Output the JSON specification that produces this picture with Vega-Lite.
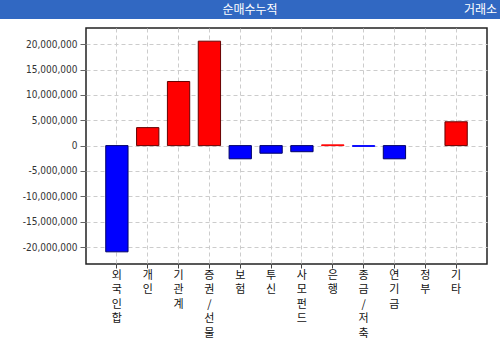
{
  "$schema": "https://vega.github.io/schema/vega-lite/v6.json",
  "padding": 0,
  "autosize": {"type": "pad"},
  "background": "white",
  "spacing": 8,
  "config": {"view": {"stroke": null}},
  "vconcat": [
    {
      "width": 500,
      "height": 19,
      "view": {"fill": "#3168c2", "stroke": null},
      "data": {"values": [{"title": "순매수누적", "market": "거래소"}]},
      "layer": [
        {
          "mark": {"type": "text", "color": "white", "font": "Noto Sans CJK KR", "fontSize": 12, "align": "center", "baseline": "middle", "y": "height", "dy": -9.5},
          "encoding": {
            "text": {"field": "title"},
            "x": {"datum": 0.5, "type": "quantitative", "scale": {"domain": [0, 1]}, "axis": null}
          }
        },
        {
          "mark": {"type": "text", "color": "white", "font": "Noto Sans CJK KR", "fontSize": 12, "align": "right", "baseline": "middle", "x": "width", "dx": -3, "y": "height", "dy": -9.5},
          "encoding": {"text": {"field": "market"}}
        }
      ]
    },
    {
      "spacing": 20,
      "hconcat": [
        {
          "width": 1,
          "height": 236,
          "data": {"values": [{"t": ""}]},
          "mark": {"type": "text"},
          "encoding": {"text": {"field": "t"}}
        },
        {
          "width": 401,
          "height": 236,
          "view": {"stroke": "#222222", "strokeWidth": 1.5},
          "data": {
            "values": [
              {"investor": "외국인합", "value": -20950000},
              {"investor": "개인", "value": 3550000},
              {"investor": "기관계", "value": 12650000},
              {"investor": "증권/선물", "value": 20600000},
              {"investor": "보험", "value": -2600000},
              {"investor": "투신", "value": -1500000},
              {"investor": "사모펀드", "value": -1200000},
              {"investor": "은행", "value": 150000},
              {"investor": "종금/저축", "value": -150000},
              {"investor": "연기금", "value": -2600000},
              {"investor": "정부", "value": 0},
              {"investor": "기타", "value": 4700000}
            ]
          },
          "mark": {"type": "bar", "strokeWidth": 1},
          "encoding": {
            "x": {
              "field": "investor",
              "type": "nominal",
              "sort": null,
              "scale": {"paddingInner": 0.277, "paddingOuter": 0.64},
              "axis": {
                "title": null,
                "labelAngle": 0,
                "labelExpr": "split(datum.label, '')",
                "labelBaseline": "top",
                "labelAlign": "center",
                "labelLineHeight": 14.5,
                "labelFont": "Noto Sans CJK KR",
                "labelFontSize": 11,
                "labelColor": "#111111",
                "labelOverlap": false,
                "labelPadding": 1,
                "tickSize": 4,
                "tickColor": "#444444",
                "domain": false,
                "grid": true,
                "gridColor": "#cccccc",
                "gridDash": [4, 3],
                "bandPosition": 0.5
              }
            },
            "y": {
              "field": "value",
              "type": "quantitative",
              "scale": {"domain": [-23350000, 23200000], "nice": false},
              "axis": {
                "title": null,
                "values": [-20000000, -15000000, -10000000, -5000000, 0, 5000000, 10000000, 15000000, 20000000],
                "labelExpr": "replace(format(datum.value, ','), '−', '-')",
                "domain": false,
                "tickColor": "#666666",
                "tickSize": 6,
                "labelPadding": 3,
                "labelFont": "DejaVu Sans Condensed",
                "labelFontSize": 10,
                "labelColor": "#333333",
                "grid": true,
                "gridColor": "#cccccc",
                "gridDash": [4, 3]
              }
            },
            "fill": {
              "condition": [
                {"test": "datum.value > 0", "value": "#ff0000"},
                {"test": "datum.value < 0", "value": "#0000ff"}
              ],
              "value": "transparent"
            },
            "stroke": {
              "condition": [
                {"test": "datum.value > 300000", "value": "#660000"},
                {"test": "datum.value < -300000", "value": "#000066"},
                {"test": "datum.value > 0", "value": "#ff0000"},
                {"test": "datum.value < 0", "value": "#0000ff"}
              ],
              "value": "transparent"
            }
          }
        }
      ]
    }
  ]
}
